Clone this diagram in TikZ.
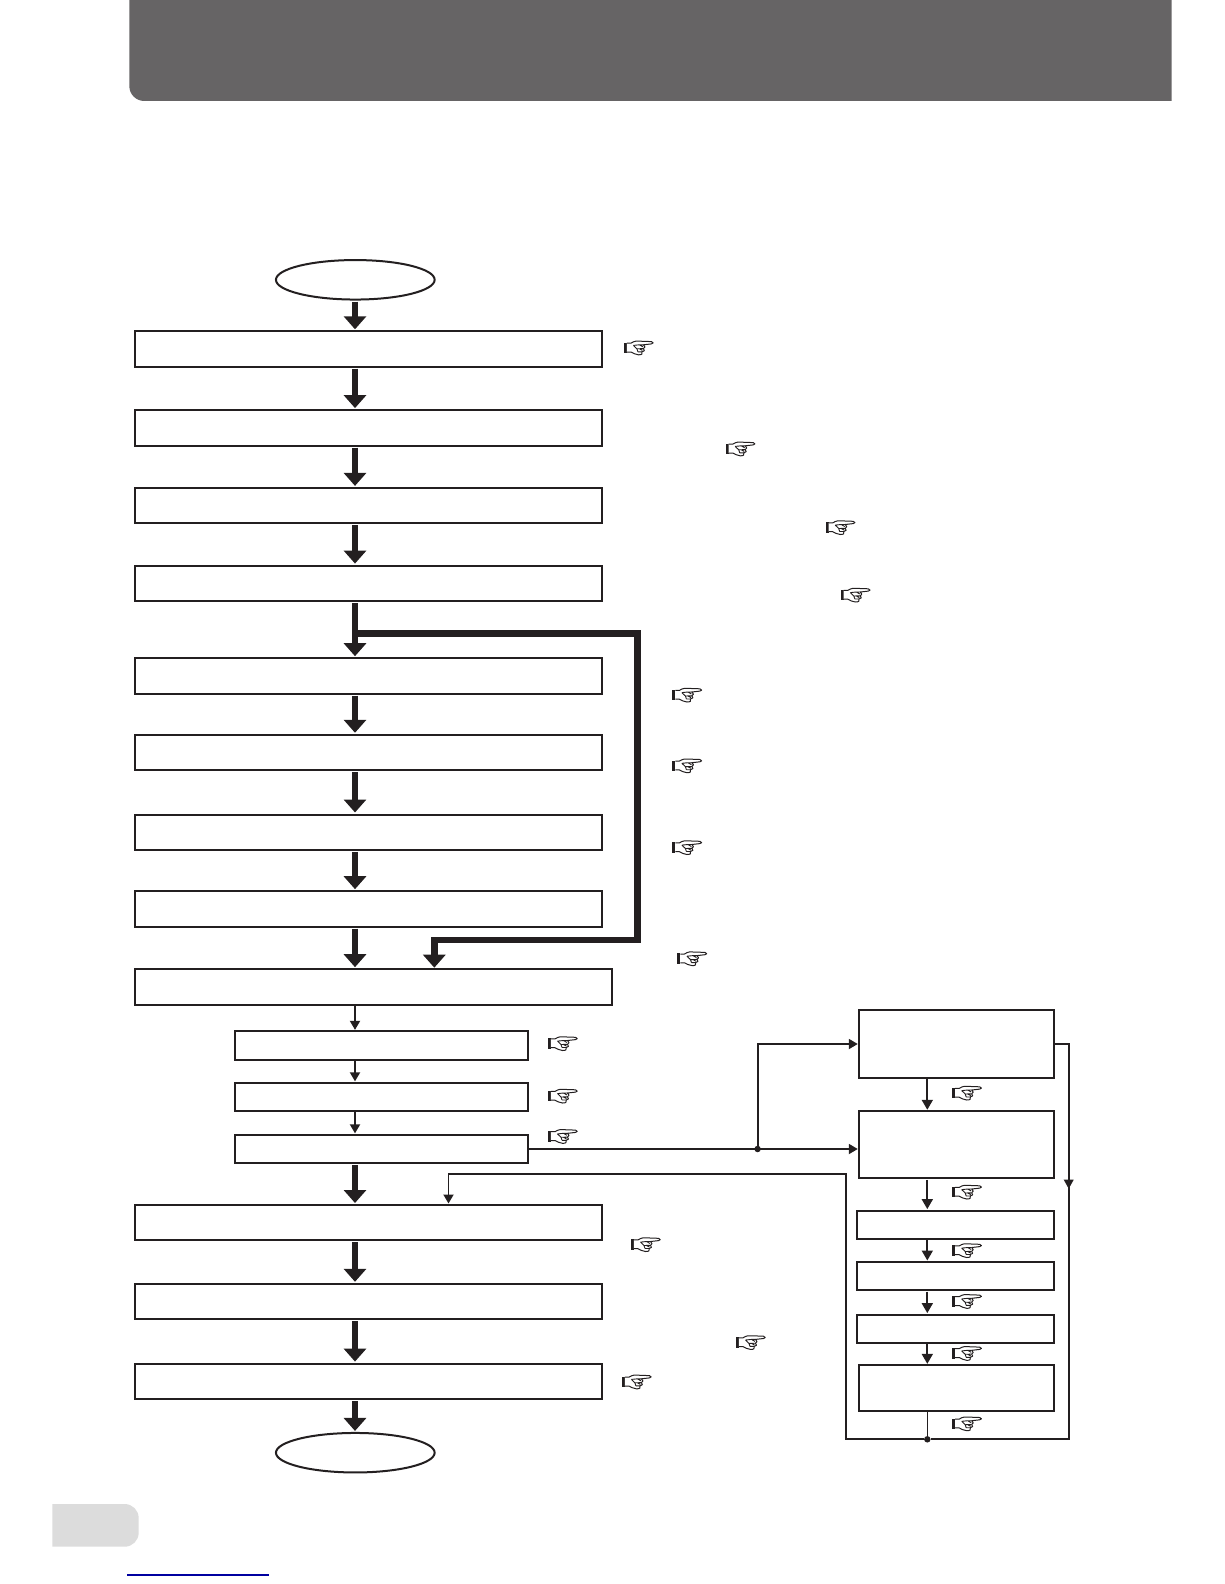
\documentclass[tikz,border=0pt]{standalone}
\usepackage{xcolor}
\usetikzlibrary{arrows.meta,positioning,shapes.geometric}
\definecolor{bandgray}{HTML}{666465}
\definecolor{tabgray}{HTML}{DCDCDC}
\definecolor{linkblue}{HTML}{0000A0}
\definecolor{inkblack}{HTML}{231F20}
\tikzset{
  bigbox/.style={draw=inkblack, line width=2pt, outer sep=0pt, inner sep=0pt, minimum width=466.4pt, minimum height=35.4pt},
  smallbox/.style={draw=inkblack, line width=2pt, outer sep=0pt, inner sep=0pt, minimum width=293pt, minimum height=28.3pt},
  sidebox/.style={draw=inkblack, line width=2pt, outer sep=0pt, inner sep=0pt, minimum width=194.4pt},
  thinside/.style={sidebox, minimum width=196.4pt, minimum height=28pt},
  endcap/.style={draw=inkblack, line width=2pt, ellipse, outer sep=0pt, inner sep=0pt, minimum width=158.7pt, minimum height=39.5pt},
  heavy/.style={draw=inkblack, line width=6.5pt, -{Triangle[width=22pt,length=13pt]}},
  wire/.style={draw=inkblack, line width=1.8pt, -{Triangle[width=10pt,length=9pt]}},
  midwire/.style={draw=inkblack, line width=1.8pt, -{Triangle[width=11pt,length=10pt]}},
  junction/.style={circle, fill=inkblack, inner sep=0pt, minimum size=6.5pt},
  hand/.pic={
    \fill[inkblack] (-14.7,-5.2) rectangle (-11.6,5.2);
    \draw[inkblack, line width=1pt, fill=white, line join=round]
      (-11.6,-4.6) -- (-7.5,-4.6) .. controls (-4,-7) and (-1,-7) .. (2,-6.6) -- (13,-6.2)
      .. controls (15.4,-5.8) and (15.2,-3.9) .. (13,-3.9) -- (5,-3)
      .. controls (7,-1.5) and (7,0) .. (5,.8) .. controls (7,2) and (6,4) .. (3.6,4)
      .. controls (5,6) and (3,7.2) .. (0,7) .. controls (-3.5,7) and (-5,5) .. (-7.5,4.2)
      -- (-11.6,4.2);
    \draw[inkblack, line width=.9pt] (-5,-2.4) -- (1,-3) -- (5,-3) (-5,-2.4) -- (-1.5,1) -- (5,.8) (-.5,4) -- (3.6,4) (-1.5,1) -- (-.5,4) (1,-3) -- (4.5,-1) (1,1) -- (4,2.6);
  }
}
\begin{document}
\begin{tikzpicture}[x=1pt, y=-1pt]
  \useasboundingbox (0,0) rectangle (1224,1584);

  \fill[bandgray] (129.3,-30) [rounded corners=15pt] -- (129.3,101) [sharp corners] -- (1171.7,101) -- (1171.7,-30) -- cycle;
  \fill[tabgray] (52.3,1504) [rounded corners=14pt] -- (138.7,1504) -- (138.7,1546.7) [sharp corners] -- (52.3,1546.7) -- cycle;
  \draw[linkblue, line width=1.2pt] (127,1575) -- (269,1575);

  \node[endcap] (start) at (355.3,279.8) {};
  \node[bigbox] (b1) at (368.5,349) {};
  \node[bigbox, below=43.4pt of b1] (b2) {};
  \node[bigbox, below=42.4pt of b2] (b3) {};
  \node[bigbox, below=42.3pt of b3] (b4) {};
  \node[bigbox, below=57.2pt of b4] (b5) {};
  \node[bigbox, below=41.2pt of b5] (b6) {};
  \node[bigbox, below=44.3pt of b6] (b7) {};
  \node[bigbox, below=41.3pt of b7] (b8) {};
  \node[bigbox, minimum width=476.4pt, below=42.6pt of b8.south west, anchor=north west] (b9) {};

  \node[smallbox] (s1) at (381,1045.5) {};
  \node[smallbox, below=23.2pt of s1] (s2) {};
  \node[smallbox, below=23.7pt of s2] (s3) {};

  \node[bigbox] (b10) at (368.5,1222.7) {};
  \node[bigbox, below=43.4pt of b10] (b11) {};
  \node[bigbox, below=44.4pt of b11] (b12) {};
  \node[endcap] (stop) at (355.3,1452.7) {};

  \node[sidebox, minimum height=67.4pt] (r1) at (956.5,1044) {};
  \node[sidebox, minimum height=67pt, below=33.6pt of r1] (r2) {};
  \node[thinside] (r3) at (955.5,1224.6) {};
  \node[thinside, below=23.4pt of r3] (r4) {};
  \node[thinside, below=24.6pt of r4] (r5) {};
  \node[sidebox, minimum height=45.7pt] (r6) at (956.5,1388.2) {};

  \coordinate (spine) at (355,0);
  \coordinate (sidespine) at (927.3,0);

  \foreach \a/\b in {start/b1,b1/b2,b2/b3,b3/b4,b4/b5,b5/b6,b6/b7,b7/b8,b8/b9,s3/b10,b10/b11,b11/b12,b12/stop}
    \draw[heavy, shorten <=2pt, shorten >=2pt] (spine |- \a.south) -- (spine |- \b.north);
  \foreach \a/\b in {b9/s1,s1/s2,s2/s3}
    \draw[wire, shorten <=1pt, shorten >=1.5pt] (spine |- \a.south) -- (spine |- \b.north);
  \foreach \a/\b in {r1/r2,r2/r3,r3/r4,r4/r5,r5/r6}
    \draw[midwire, shorten <=1.5pt, shorten >=1.5pt] (sidespine |- \a.south) -- (sidespine |- \b.north);

  % heavy bypass
  \coordinate (branch) at (355,633.3);
  \coordinate (bypassdrop) at (434.3,940);
  \draw[heavy, shorten >=1.5pt] (branch) -| (637.7,940) -- (bypassdrop) -- (bypassdrop |- b9.north);

  % side loop
  \node[junction] (fork) at (757.6,1149) {};
  \node[junction] (join) at (927.3,1439.3) {};
  \coordinate (loopin) at (448.5,1174.3);
  \draw[wire, shorten >=1.5pt] (s3.east |- fork) -- (r2.west |- fork);
  \draw[wire, shorten >=1.5pt] (fork) |- (r1.west);
  \draw[draw=inkblack, line width=1pt] (r6.south -| join) -- (join);
  \draw[wire, shorten >=1.5pt] (r1.east) -| (1068.7,1439.3) -- (join) -- (845.7,1439.3) |- (loopin) -- (loopin |- b10.north);
  \coordinate (rightmark) at (1068.7,1188.7);
  \fill[inkblack] (rightmark) -- ++(-5,-9) -- ++(10,0) -- cycle;

  \foreach \n/\x/\y in {h1/638.4/347.8,h2/740.2/448.8,h3/840.2/527.5,h4/855.3/595,h5/686.9/695,h6/686.9/765.7,h7/686.9/847.5,h8/692/958.6,
    h9/562.5/1043.5,h10/562.5/1096,h11/562.5/1136.3,h12/645.5/1244.5,h13/750.5/1342.4,h14/636.4/1381.8,
    h15/966.7/1093,h16/966.7/1192,h17/966.7/1250.5,h18/966.7/1301.3,h19/966.7/1353.3,h20/966.7/1423.7}
    \pic (\n) at (\x,\y) {hand};
\end{tikzpicture}
\end{document}
